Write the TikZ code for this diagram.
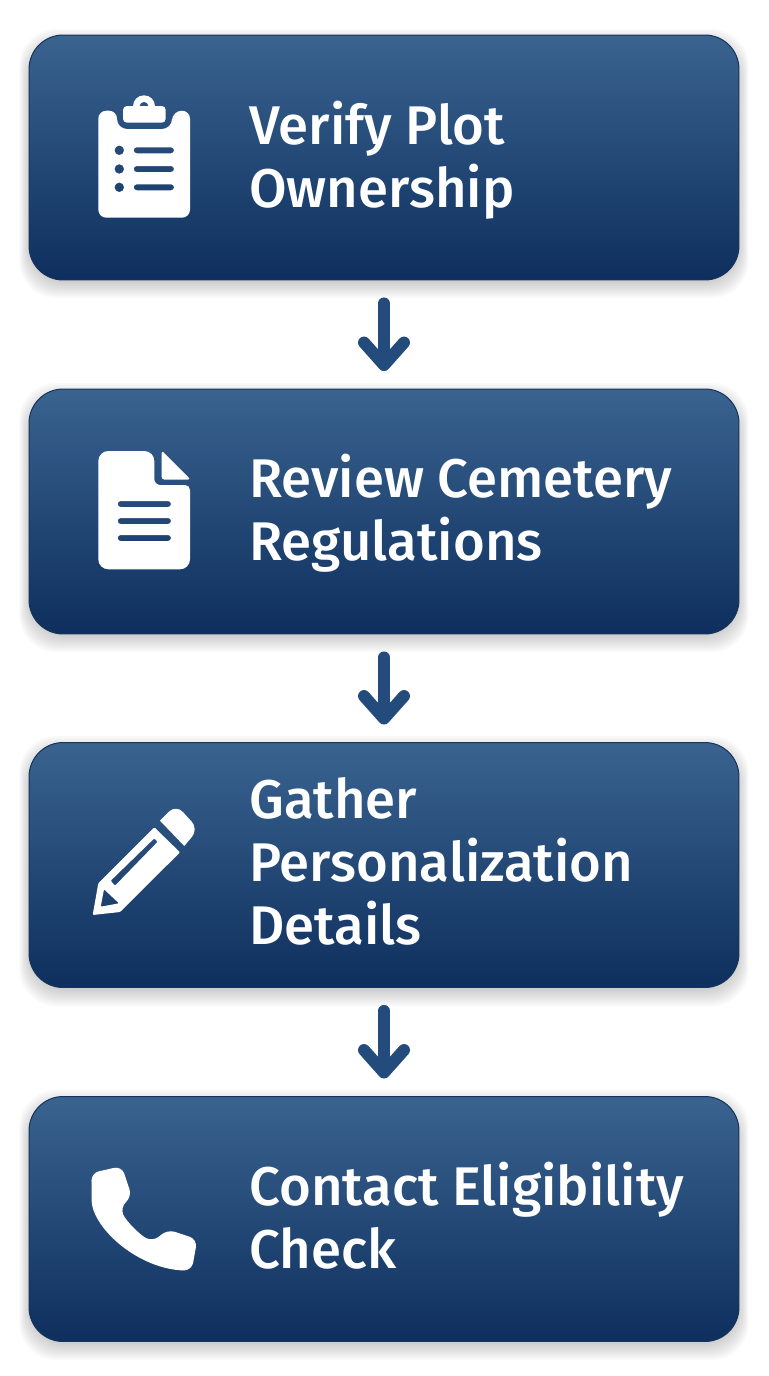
\documentclass[tikz,border=0pt]{standalone}
\usepackage{fontspec}
\setmainfont{Fira Sans Medium}
\usetikzlibrary{arrows.meta}

\definecolor{boxtop}{HTML}{3A6390}
\definecolor{boxbottom}{HTML}{0E2F5E}
\definecolor{boxedge}{HTML}{16335C}
\definecolor{arrowblue}{HTML}{234B7B}

\tikzset{
    stepbox/.style={rectangle, rounded corners=0.68cm, minimum width=14.2cm, minimum height=4.9cm,
        top color=boxtop, bottom color=boxbottom, draw=boxedge, line width=0.02cm, inner sep=0pt},
    steptext/.style={anchor=west, align=left, text=white, inner sep=0pt, font=\fontsize{31}{35.7}\selectfont},
    flow/.style={draw=arrowblue, line width=0.24cm, line cap=round, shorten <=0.46cm, shorten >=0.35cm,
        -{Straight Barb[round, length=0.45cm, width=0.8cm]}},
    icon/.style={fill=white, even odd rule},
    boxshadow/.style={fill=black, fill opacity=0.024, rounded corners=0.74cm}
}

\begin{document}
\begin{tikzpicture}[x=0.02cm, y=-0.02cm]
    \useasboundingbox (0,0) rectangle (768,1376);

    % soft shadows under the boxes
    \foreach \top/\bot in {35/280, 389/634, 742/988, 1096/1342} {
        \foreach \grow in {0,2,...,16} {
            \fill[boxshadow] (29-0.6*\grow,\top+10-\grow) rectangle (739+0.6*\grow,\bot+2+\grow);
        }
    }

    \node[stepbox] (plot) at (384,157.5) {};
    \node[stepbox] (rules) at (384,511.5) {};
    \node[stepbox] (details) at (384,865) {};
    \node[stepbox] (contact) at (384,1219) {};

    \node[steptext] (plottext) at (249,160) {Verify Plot\\Ownership};
    \node[steptext] (rulestext) at (249,513.5) {Review Cemetery\\Regulations};
    \node[steptext] (detailstext) at (249,861.5) {Gather\\Personalization\\Details};
    \node[steptext] (contacttext) at (249,1216) {Contact Eligibility\\Check};

    \draw[flow] (plot) -- (rules);
    \draw[flow] (rules) -- (details);
    \draw[flow] (details) -- (contact);

    % clipboard
    \fill[icon] [rounded corners=0.16cm]
        (98.3,110.7) -- (117,110.7) [rounded corners=0.2cm] -- (117,129) -- (172,129) -- (172,110.7)
        [rounded corners=0.16cm] -- (190,110.7) -- (190,217.7) -- (98.3,217.7) -- cycle
        (119.3,150.3) circle (4.8) (119.3,169) circle (4.8) (119.3,187.3) circle (4.8)
        [rounded corners=0.06cm]
        (133.7,147.3) rectangle (174,153.3)
        (133.7,166) rectangle (174,172)
        (133.7,184.3) rectangle (174,190.3);
    \fill[icon] [rounded corners=0.08cm] (123,106) rectangle (165.7,122.7);
    \fill[icon] (144,106.3) circle (11) (144,106.3) circle (4.5);

    % document
    \fill[icon] [rounded corners=0.2cm]
        (98.3,451) -- (154.3,451) [rounded corners=0.12cm] -- (154.3,485) [rounded corners=0.1cm] -- (190,485)
        [rounded corners=0.2cm] -- (190,569.3) -- (98.3,569.3) -- cycle
        [rounded corners=0.06cm]
        (117.7,501) rectangle (171,507)
        (117.7,518) rectangle (171,524)
        (117.7,535) rectangle (171,541);
    \fill[icon] [rounded corners=0.05cm] (161.7,450.5) -- (190.5,479.5) -- (161.7,479.5) -- cycle;

    % pencil
    \fill[icon] [rounded corners=0.02cm]
        (154.3,827.3) -- (180,852.3) -- (120,912) -- (92.7,915) -- (98.3,883.3) -- cycle
        (154.3,838.3) -- (157.7,841.7) -- (115,885.7) -- (110.7,880.7) -- cycle
        (104,889.3) -- (119,903.3) -- (100.7,906.7) -- cycle;
    \fill[icon] (160,820.7) [rounded corners=0.2cm] -- (176,804.5) -- (198.5,829)
        [sharp corners] -- (184.3,846) -- cycle;

    % phone
    \fill[icon] [rounded corners=0.16cm]
        (107,1169.5) -- (121.7,1166) -- (132,1196.7) -- (120,1207.3)
        .. controls (126,1221) and (140,1235) .. (153.3,1241.7)
        -- (167.3,1229.3) -- (197.3,1239.3) -- (191.7,1270.7)
        .. controls (137,1269) and (90,1226) .. (92,1190) -- (91,1173) -- (107,1169.5);
\end{tikzpicture}
\end{document}
